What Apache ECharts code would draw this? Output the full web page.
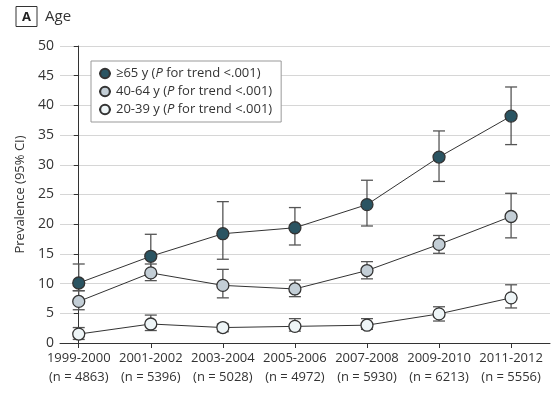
<!DOCTYPE html>
<html>
<head>
<meta charset="utf-8">
<script src="https://cdn.jsdelivr.net/npm/echarts@6/dist/echarts.min.js"></script>
<style>html,body{margin:0;padding:0;background:#fff;}#c{width:554px;height:393px;}</style>
</head>
<body>
<div id="c"></div>
<script>
const categories = ['1999-2000', '2001-2002', '2003-2004', '2005-2006', '2007-2008', '2009-2010', '2011-2012'];
const sampleSizes = ['4863', '5396', '5028', '4972', '5930', '6213', '5556'];
const yTicks = [0, 5, 10, 15, 20, 25, 30, 35, 40, 45, 50];

const age65 = [10.1, 14.6, 18.4, 19.4, 23.3, 31.3, 38.2];
const age65Low = [8.8, 11.5, 14.1, 16.5, 19.7, 27.2, 33.4];
const age65High = [13.3, 18.3, 23.8, 22.8, 27.4, 35.7, 43.1];

const age40 = [7.0, 11.8, 9.7, 9.1, 12.2, 16.6, 21.3];
const age40Low = [5.6, 10.5, 7.6, 7.8, 10.8, 15.1, 17.7];
const age40High = [8.8, 13.3, 12.4, 10.6, 13.7, 18.1, 25.2];

const age20 = [1.5, 3.2, 2.6, 2.8, 3.0, 4.9, 7.6];
const age20Low = [0.6, 2.1, 1.9, 2.0, 2.3, 3.7, 5.9];
const age20High = [2.6, 4.7, 3.2, 4.1, 4.1, 6.1, 9.8];

const FONT = '"Open Sans", "Noto Sans", sans-serif';
const idx = categories.map((_, i) => i);

function pts(vals) { return vals.map((v, i) => [i, v]); }
function errs(lo, hi) { return lo.map((v, i) => [i, v, hi[i]]); }

function renderErr(params, api) {
  const x = api.value(0);
  const lo = api.coord([x, api.value(1)]);
  const hi = api.coord([x, api.value(2)]);
  const w = 6;
  const st = { stroke: '#555', lineWidth: 1.3 };
  return {
    type: 'group',
    children: [
      { type: 'line', shape: { x1: lo[0], y1: lo[1], x2: hi[0], y2: hi[1] }, style: st },
      { type: 'line', shape: { x1: lo[0] - w, y1: lo[1], x2: lo[0] + w, y2: lo[1] }, style: st },
      { type: 'line', shape: { x1: hi[0] - w, y1: hi[1], x2: hi[0] + w, y2: hi[1] }, style: st }
    ]
  };
}

function lineSeries(name, data, fill) {
  return {
    name: name,
    type: 'line',
    data: pts(data),
    symbol: 'circle',
    symbolSize: 12,
    z: 5,
    lineStyle: { color: '#333', width: 1 },
    itemStyle: { color: fill, borderColor: '#333', borderWidth: 1.3 },
    emphasis: { disabled: true }
  };
}
function errSeries(lo, hi) {
  return {
    type: 'custom',
    renderItem: renderErr,
    data: errs(lo, hi),
    encode: { x: 0, y: [1, 2] },
    z: 3,
    silent: true
  };
}

const names = ['s65', 's40', 's20'];
const legendText = {
  s65: '≥65 y (',
  s40: '40-64 y (',
  s20: '20-39 y ('
};

const chart = echarts.init(document.getElementById('c'), null, { renderer: 'canvas' });
chart.setOption({
  animation: false,
  backgroundColor: '#fff',
  textStyle: { fontFamily: FONT },
  title: {
    left: 16, top: 9, padding: 0,
    text: '{box|A}{t|Age}',
    textStyle: {
      fontWeight: 'normal',
      rich: {
        box: { fontFamily: FONT, fontWeight: 'bold', fontSize: 13, color: '#222', borderColor: '#333', borderWidth: 1, padding: [4, 6, 3, 6], width: 9, height: 13, lineHeight: 13, align: 'center' },
        t: { fontFamily: FONT, fontWeight: 'normal', fontSize: 15, color: '#333', padding: [0, 0, 0, 8] }
      }
    }
  },
  grid: { left: 60, right: 4, top: 46, bottom: 50 },
  legend: {
    orient: 'vertical',
    left: 91, top: 61,
    padding: [6, 9, 6, 7],
    itemWidth: 12, itemHeight: 12, itemGap: 5,
    backgroundColor: '#fff',
    borderColor: '#999', borderWidth: 1,
    data: names,
    formatter: n => '{a|' + legendText[n] + '}{i|P}{a| for trend <.001)}',
    textStyle: {
      fontFamily: FONT, fontSize: 13, color: '#333',
      rich: {
        a: { fontFamily: FONT, fontSize: 13, color: '#333', lineHeight: 13 },
        i: { fontFamily: FONT, fontSize: 13, color: '#333', fontStyle: 'italic', lineHeight: 13 }
      }
    }
  },
  xAxis: {
    type: 'value',
    min: -0.26, max: 6.54,
    axisLine: { show: true, onZero: false, lineStyle: { color: '#333', width: 1 } },
    axisTick: { show: true, customValues: idx, length: 5, lineStyle: { color: '#333' } },
    splitLine: { show: false },
    axisLabel: {
      customValues: idx,
      formatter: v => categories[v] + '\n(n = ' + sampleSizes[v] + ')',
      fontFamily: FONT, fontSize: 13, color: '#333', lineHeight: 19, margin: 6
    }
  },
  yAxis: {
    type: 'value',
    min: 0, max: 50, interval: 5,
    name: 'Prevalence (95% CI)',
    nameLocation: 'middle', nameGap: 31,
    nameTextStyle: { fontFamily: FONT, fontSize: 13, color: '#333' },
    axisLine: { show: true, lineStyle: { color: '#333', width: 1 } },
    axisTick: { show: true, length: 5, lineStyle: { color: '#333' } },
    axisLabel: { fontFamily: FONT, fontSize: 14, color: '#333', margin: 6, formatter: v => yTicks.includes(v) ? String(v) : '' },
    splitLine: { show: true, lineStyle: { color: '#d6d6d6', width: 1 } }
  },
  series: [
    errSeries(age65Low, age65High),
    errSeries(age40Low, age40High),
    errSeries(age20Low, age20High),
    lineSeries('s65', age65, '#2a5462'),
    lineSeries('s40', age40, '#c3ced6'),
    lineSeries('s20', age20, '#eef5f7')
  ]
});
</script>
</body>
</html>
